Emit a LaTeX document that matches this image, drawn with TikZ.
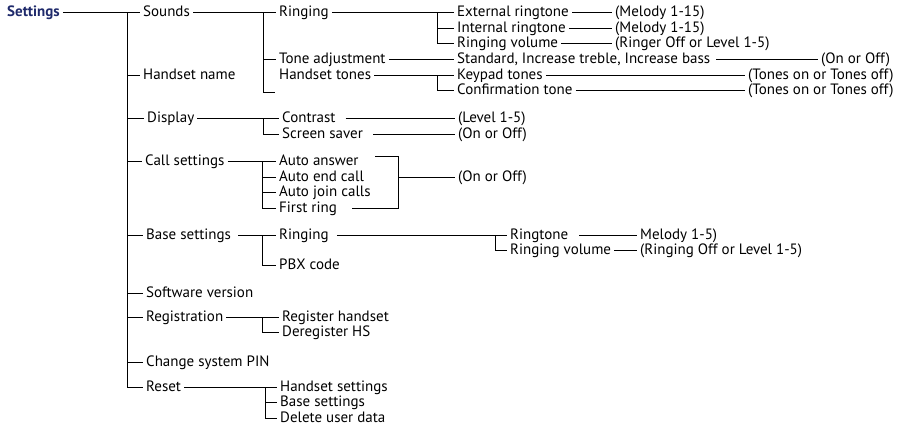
\documentclass[tikz,border=0pt]{standalone}
\usepackage{fontspec}
\setmainfont{PT Sans}
\definecolor{navy}{HTML}{1F2A6B}

\tikzset{
  item/.style={anchor=west, inner xsep=3pt, inner ysep=0pt, text height=10pt, text depth=2.5pt, font=\fontsize{15}{17}\selectfont},
  link/.style={line width=1pt},
}

\begin{document}
\begin{tikzpicture}[x=1pt, y=-1pt]
        \useasboundingbox (0,0) rectangle (903,427);
        % first level
        \node[item, text=navy, font=\fontsize{15}{17}\selectfont\bfseries] (set) at (4,13) {Settings};
        \node[item] (snd) at (140,13) {Sounds};
        \node[item] (hname) at (140,76) {Handset name};
        \node[item] (disp) at (144,119) {Display};
        \node[item] (call) at (142,162) {Call settings};
        \node[item] (base) at (143,236) {Base settings};
        \node[item] (soft) at (143,294) {Software version};
        \node[item] (reg) at (143,318) {Registration};
        \node[item] (pin) at (143,363) {Change system PIN};
        \node[item] (rst) at (143,388) {Reset};
        \coordinate (bMain) at (127,13);
        \draw[link] (set.east) -- (snd.west);
        \draw[link] (bMain) -- (bMain |- rst) -- (rst.west);
        \draw[link] (bMain |- hname) -- (hname.west);
        \draw[link] (bMain |- disp) -- (disp.west);
        \draw[link] (bMain |- call) -- (call.west);
        \draw[link] (bMain |- base) -- (base.west);
        \draw[link] (bMain |- soft) -- (soft.west);
        \draw[link] (bMain |- reg) -- (reg.west);
        \draw[link] (bMain |- pin) -- (pin.west);

        % sounds
        \node[item] (rng) at (276,13) {Ringing};
        \node[item] (tone) at (276,60) {Tone adjustment};
        \node[item] (htones) at (276,76) {Handset tones};
        \coordinate (bSnd) at (263,13);
        \coordinate (bSndEnd) at (275,93);
        \draw[link] (snd.east) -- (rng.west);
        \draw[link] (bSnd) |- (bSndEnd);
        \draw[link] (bSnd |- tone) -- (tone.west);

        \node[item] (ext) at (454,13) {External ringtone};
        \node[item] (intl) at (454,29) {Internal ringtone};
        \node[item] (rvol) at (454,44) {Ringing volume};
        \node[item] (mel1) at (612,13) {(Melody 1-15)};
        \node[item] (mel2) at (612,29) {(Melody 1-15)};
        \node[item] (rvopt) at (612,44) {(Ringer Off or Level 1-5)};
        \coordinate (bRng) at (437,13);
        \draw[link] (rng.east) -- (ext.west);
        \draw[link] (bRng) |- (rvol.west);
        \draw[link] (bRng |- intl) -- (intl.west);
        \draw[link] (ext.east) -- (mel1.west);
        \draw[link] (intl.east) -- (mel2.west);
        \draw[link] (rvol.east) -- (rvopt.west);

        \node[item] (std) at (454,60) {Standard, Increase treble, Increase bass};
        \node[item] (onoff1) at (818,60) {(On or Off)};
        \draw[link] (tone.east) -- (std.west);
        \draw[link] ([xshift=3pt]std.east) -- (onoff1.west);

        \node[item] (kpd) at (454,76) {Keypad tones};
        \node[item] (conf) at (454,91) {Confirmation tone};
        \node[item] (ton1) at (745,76) {(Tones on or Tones off)};
        \node[item] (ton2) at (745,91) {(Tones on or Tones off)};
        \coordinate (bHt) at (437,76);
        \draw[link] (htones.east) -- (kpd.west);
        \draw[link] (bHt) |- (conf.west);
        \draw[link] (kpd.east) -- (ton1.west);
        \draw[link] (conf.east) -- (ton2.west);

        % display
        \node[item] (contr) at (279,119) {Contrast};
        \node[item] (scr) at (279,135) {Screen saver};
        \node[item] (lvl) at (455,119) {(Level 1-5)};
        \node[item] (onoff2) at (455,135) {(On or Off)};
        \coordinate (bDisp) at (263,119);
        \draw[link] (disp.east) -- (contr.west);
        \draw[link] (bDisp) |- (scr.west);
        \draw[link] ([xshift=7pt]contr.east) -- (lvl.west);
        \draw[link] ([xshift=7pt]scr.east) -- (onoff2.west);

        % call settings
        \node[item] (ans) at (276,162) {Auto answer};
        \node[item] (endc) at (276,178) {Auto end call};
        \node[item] (join) at (276,193) {Auto join calls};
        \node[item] (first) at (276,209) {First ring};
        \node[item] (onoff3) at (455,178) {(On or Off)};
        \coordinate (bCall) at (262,162);
        \coordinate (jTop) at (398,157);
        \coordinate (jBot) at (398,209);
        \draw[link] (call.east) -- (ans.west);
        \draw[link] (bCall) |- (first.west);
        \draw[link] (bCall |- endc) -- (endc.west);
        \draw[link] (bCall |- join) -- (join.west);
        \draw[link] ([xshift=-23pt]jTop) -- (jTop) -- (jBot) -- ([xshift=12pt]first.east);
        \draw[link] (jTop |- endc) -- (onoff3.west);

        % base settings
        \node[item] (bring) at (276,236) {Ringing};
        \node[item] (pbx) at (276,266) {PBX code};
        \coordinate (bBase) at (262,236);
        \draw[link] ([xshift=4pt]base.east) -- (bring.west);
        \draw[link] (bBase) |- (pbx.west);

        \node[item] (rtone) at (507,236) {Ringtone};
        \node[item] (bvol) at (507,251) {Ringing volume};
        \node[item] (mel3) at (637,236) {Melody 1-5)};
        \node[item] (bvopt) at (637,251) {(Ringing Off or Level 1-5)};
        \coordinate (bBr) at (495,236);
        \draw[link] ([xshift=5pt]bring.east) -- (rtone.west);
        \draw[link] (bBr) |- (bvol.west);
        \draw[link] ([xshift=8pt]rtone.east) -- (mel3.west);
        \draw[link] (bvol.east) -- (bvopt.west);

        % registration
        \node[item] (rh) at (279,318) {Register handset};
        \node[item] (dh) at (279,333) {Deregister HS};
        \coordinate (bReg) at (262,318);
        \draw[link] (reg.east) -- (rh.west);
        \draw[link] (bReg) |- (dh.west);

        % reset
        \node[item] (hs) at (277,388) {Handset settings};
        \node[item] (bs) at (277,403) {Base settings};
        \node[item] (del) at (277,419) {Delete user data};
        \coordinate (bRst) at (265,388);
        \draw[link] (rst.east) -- (hs.west);
        \draw[link] (bRst) |- (del.west);
        \draw[link] (bRst |- bs) -- (bs.west);
      \end{tikzpicture}
\end{document}
